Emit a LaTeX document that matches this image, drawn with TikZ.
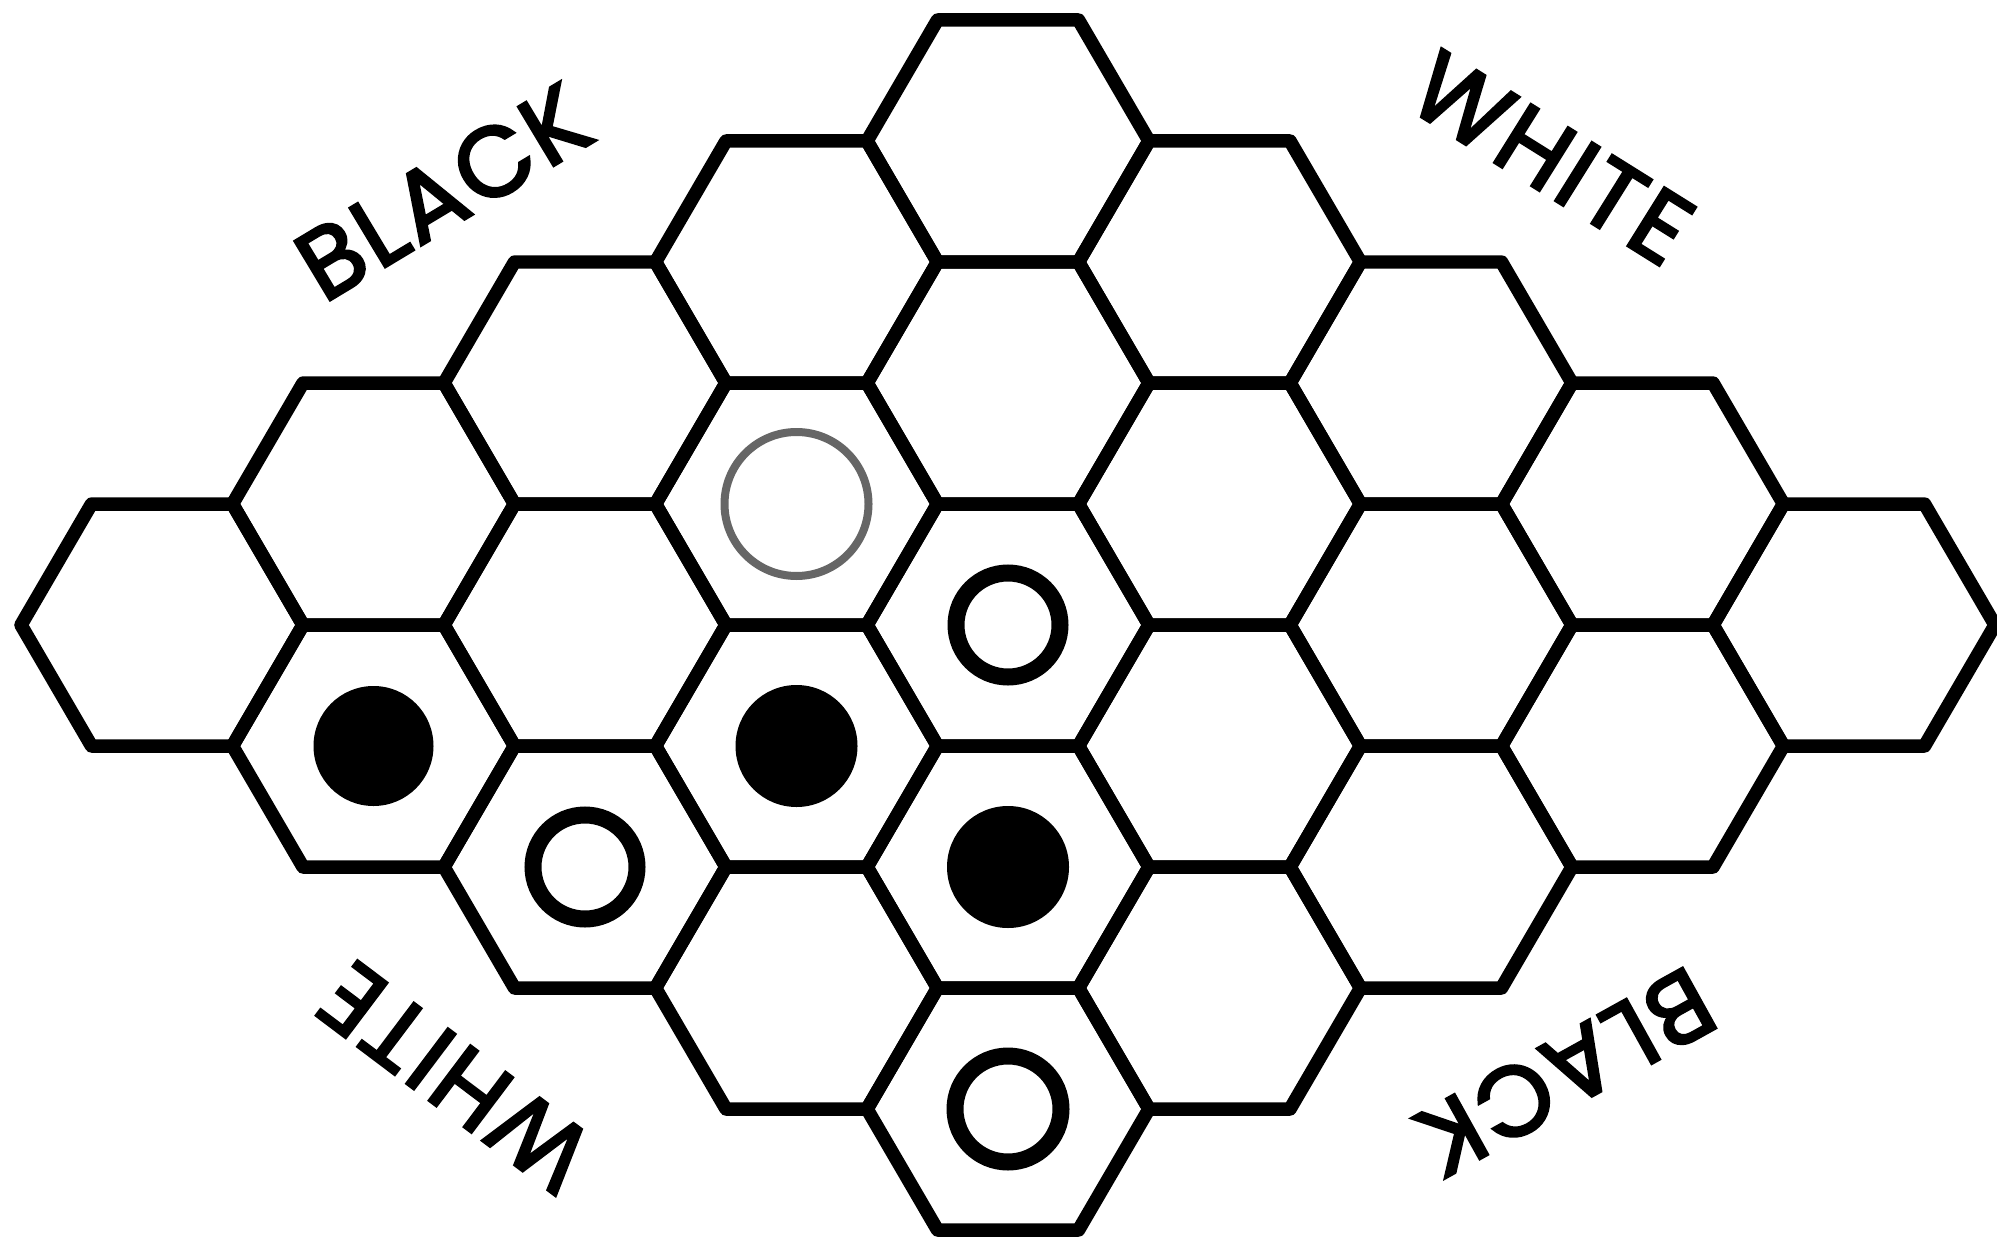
\documentclass[tikz,border=0pt]{standalone}
\usepackage{fontspec}
\setmainfont{Poppins}
\newfontfamily\lblfont{Poppins}[FakeBold=3,LetterSpace=4]
\begin{document}
\begin{tikzpicture}[x=0.02cm,y=-0.02cm,
  hexline/.style={line width=0.27cm,line join=round,line cap=round},
  blackstone/.style={fill=black},
  whitestone/.style={draw=black,line width=0.34cm,fill=white},
  markring/.style={draw=black!60,line width=0.16cm},
  sidelabel/.style={inner sep=0pt,font=\lblfont\fontsize{56}{62}\selectfont}]
\useasboundingbox (0,0) rectangle (1997,1240);
\fill[white] (0,0) rectangle (1997,1240);
% board cells: c<i><j>, i down-right, j down-left from the top cell
\foreach \i in {0,...,4}{
  \foreach \j in {0,...,4}{
    \pgfmathsetmacro{\cx}{1008+211.5*(\i-\j)}
    \pgfmathsetmacro{\cy}{141+121*(\i+\j)}
    \coordinate (c\i\j) at (\cx,\cy);
    \draw[hexline] (c\i\j) ++(-141,0) -- ++(70.5,-121) -- ++(141,0)
      -- ++(70.5,121) -- ++(-70.5,121) -- ++(-141,0) -- cycle;
  }
}
% stones
\fill[blackstone] (c14) circle[radius=60];
\fill[blackstone] (c23) circle[radius=61];
\fill[blackstone] (c33) circle[radius=61];
\draw[whitestone] (c24) circle[radius=52];
\draw[whitestone] (c22) circle[radius=52];
\draw[whitestone] (c44) circle[radius=53];
\draw[markring] (c12) circle[radius=72];
% side labels
\node[sidelabel,rotate=31] (lblTL) at (443,192) {BLACK};
\node[sidelabel,rotate=-32] (lblTR) at (1552,158) {WHITE};
\node[sidelabel,rotate=143] (lblBL) at (455,1077) {WHITE};
\node[sidelabel,rotate=-151] (lblBR) at (1566,1072) {BLACK};
\end{tikzpicture}
\end{document}
